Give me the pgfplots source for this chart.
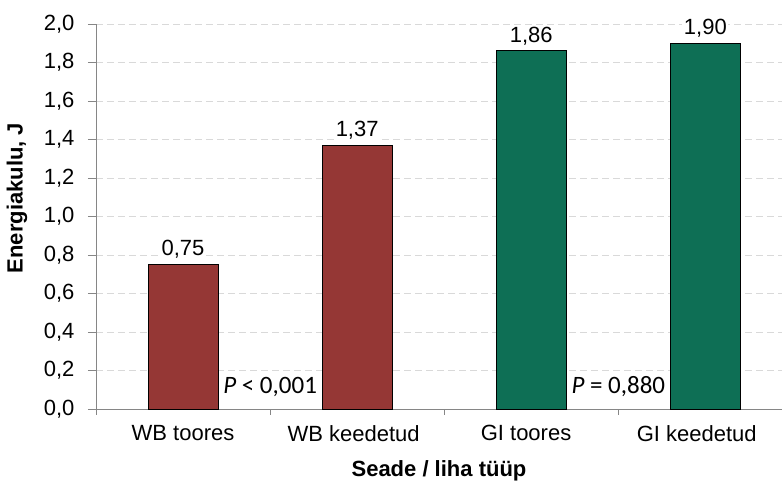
\documentclass[border=0pt]{standalone}
\usepackage{fontspec}
\setmainfont{Liberation Sans}
\newfontfamily\calibri{Carlito}
\usepackage{pgfplots}
\pgfplotsset{compat=1.18}
\definecolor{wbred}{RGB}{149,55,53}
\definecolor{gigreen}{RGB}{14,111,85}
\definecolor{gridgray}{RGB}{217,217,217}
\definecolor{axgray}{RGB}{134,134,134}
\begin{document}
\begin{tikzpicture}[font=\fontsize{22}{26}\selectfont]
\useasboundingbox (0,0) rectangle (782pt,484pt);
\begin{axis}[
  at={(96pt,75pt)}, anchor=south west,
  scale only axis, width=686pt, height=385pt,
  xmin=-0.5, xmax=3.44, ymin=0, ymax=2,
  axis x line=bottom, axis y line=left,
  axis line style={-, axgray, line width=0.8pt},
  every tick label/.append style={font=\fontsize{22}{26}\selectfont},
  every axis label/.append style={font=\fontsize{22}{26}\selectfont\bfseries},
  ytick={0,0.2,0.4,0.6,0.8,1.0,1.2,1.4,1.6,1.8,2.0},
  yticklabel style={xshift=-10pt, /pgf/number format/fixed, /pgf/number format/fixed zerofill, /pgf/number format/precision=1, /pgf/number format/use comma, /pgf/number format/assume math mode=true},
  ymajorgrids, grid style={gridgray, line width=0.8pt, dash pattern=on 7pt off 4pt},
  tick align=outside,
  major tick length=8pt, minor tick length=6pt,
  ytick style={axgray, line width=0.8pt},
  xtick={0,0.98,1.97,2.95},
  xticklabels={WB toores, WB keedetud, GI toores, GI keedetud},
  major x tick style={draw=none},
  minor xtick={-0.5,0.5,1.5,2.5},
  minor x tick style={axgray, line width=0.8pt},
  xticklabel style={yshift=-5pt},
  xlabel={Seade / liha tüüp},
  ylabel={Energiakulu, J},
  xlabel style={at={(axis description cs:0.5,-0.16)}, anchor=center},
  ylabel style={at={(axis description cs:-0.115,0.548)}, anchor=center},
  ybar, bar width=0.402, bar shift=0pt,
  nodes near coords={\pgfmathprintnumber[fixed,fixed zerofill,precision=2,use comma,assume math mode=true]{\pgfplotspointmeta}},
  nodes near coords style={font=\fontsize{22}{26}\selectfont, fill=white, inner sep=1.5pt, yshift=4pt, anchor=south},
  clip=false,
]
\addplot[fill=wbred, draw=black, line width=0.9pt] coordinates {(0,0.75) (1,1.37)};
\addplot[fill=gigreen, draw=black, line width=0.9pt] coordinates {(2,1.86) (3,1.90)};
\node[fill=white, inner sep=1pt, font=\calibri\fontsize{25}{27}\selectfont] at (axis cs:0.5,0.114) {\textit{P} < 0,001};
\node[fill=white, inner sep=1pt, font=\calibri\fontsize{25}{27}\selectfont] at (axis cs:2.5,0.114) {\textit{P} = 0,880};
\end{axis}
\end{tikzpicture}
\end{document}
